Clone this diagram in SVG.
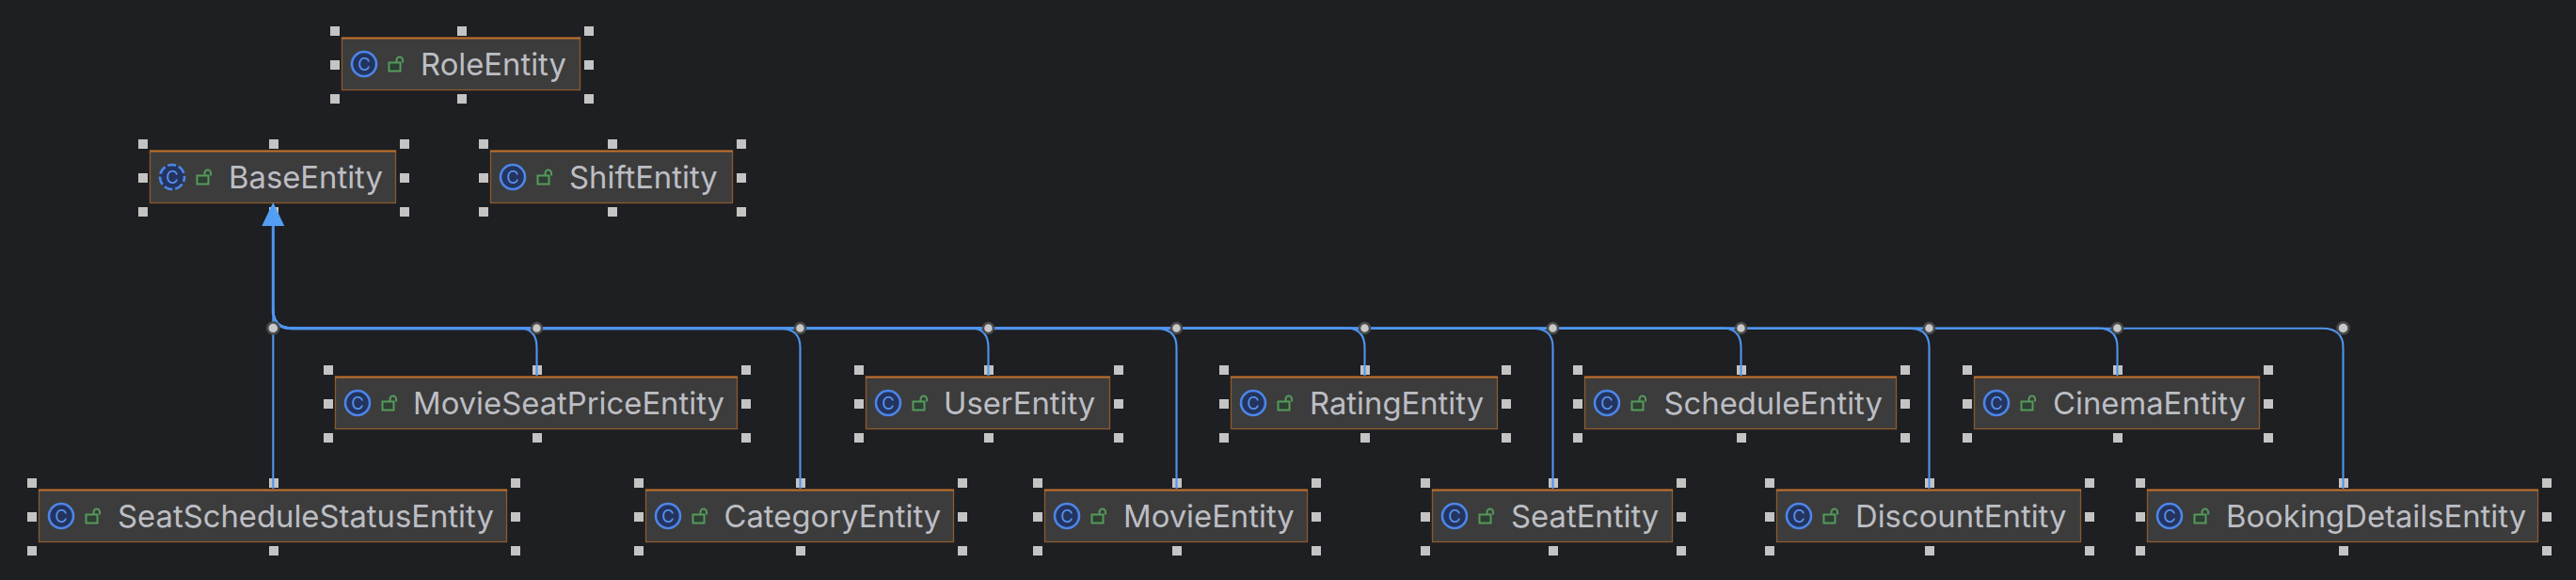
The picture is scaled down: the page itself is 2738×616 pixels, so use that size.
<svg xmlns="http://www.w3.org/2000/svg" width="2738" height="616" viewBox="0 0 2738 616">
<style>
.box{fill:#3c3c3c;stroke:#8c5a2e;stroke-width:1.3}
.top{stroke:#c0702c;stroke-width:1.8}
.name{font-family:"Inter","Liberation Sans",sans-serif;font-size:32.8px;fill:#bcbec4}
.h{fill:#c4c4c4}
.ic{fill:#23345e;stroke:#4d85e8;stroke-width:2.6}
.ca{fill:none;stroke:#4d85e8;stroke-width:2.6;stroke-dasharray:9 3;stroke-dashoffset:4}
.c{font-family:"Inter","Liberation Sans",sans-serif;font-size:18.5px;fill:#5c93ee;text-anchor:middle}
.lb{fill:#2e3f33;stroke:#559a5c;stroke-width:2}
.ls{fill:none;stroke:#559a5c;stroke-width:2}
.e{fill:none;stroke:#4f95ee;stroke-width:2.1}
.k{fill:#c8c8c8;stroke:#4a4a4a;stroke-width:2.5}
</style>
<defs>
<marker id="tri" markerUnits="userSpaceOnUse" markerWidth="26" markerHeight="26" viewBox="0 0 26 26" refX="0" refY="13" orient="auto-start-reverse">
<polygon points="0,1 25,13 0,25" fill="#539ff6"/>
</marker>
<g id="lock">
<rect class="lb" x="0" y="6" width="12" height="9"/>
<path class="ls" d="M8 6V3.4a3.2 3.2 0 0 1 6.6 0V6"/>
</g>
<g id="handles">
<rect class="h" x="-5" y="-5" width="10" height="10"/>
</g>
</defs>
<rect width="2738" height="616" fill="#1e1f22"/>

<g id="RoleEntity">
<rect class="box" x="363.5" y="40.5" width="253" height="55"/><path class="top" d="M363 40.5H617"/>
<circle class="ic" cx="387" cy="68" r="13"/><text class="c" x="387" y="74.7">C</text>
<use href="#lock" x="413.5" y="60.5"/>
<text class="name" x="447" y="80">RoleEntity</text>
<use href="#handles" x="356" y="33"/><use href="#handles" x="491" y="33"/><use href="#handles" x="626" y="33"/><use href="#handles" x="356" y="69"/><use href="#handles" x="626" y="69"/><use href="#handles" x="356" y="105"/><use href="#handles" x="491" y="105"/><use href="#handles" x="626" y="105"/>
</g>
<g id="BaseEntity">
<rect class="box" x="159.5" y="160.5" width="261" height="55"/><path class="top" d="M159 160.5H421"/>
<circle cx="183" cy="188" r="13" fill="#23345e"/><circle class="ca" cx="183" cy="188" r="13"/><text class="c" x="183" y="194.7">C</text>
<use href="#lock" x="209.5" y="180.5"/>
<text class="name" x="243" y="200">BaseEntity</text>
<use href="#handles" x="152" y="153"/><use href="#handles" x="291" y="153"/><use href="#handles" x="430" y="153"/><use href="#handles" x="152" y="189"/><use href="#handles" x="430" y="189"/><use href="#handles" x="152" y="225"/><use href="#handles" x="291" y="225"/><use href="#handles" x="430" y="225"/>
</g>
<g id="ShiftEntity">
<rect class="box" x="521.5" y="160.5" width="257" height="55"/><path class="top" d="M521 160.5H779"/>
<circle class="ic" cx="545" cy="188" r="13"/><text class="c" x="545" y="194.7">C</text>
<use href="#lock" x="571.5" y="180.5"/>
<text class="name" x="605" y="200">ShiftEntity</text>
<use href="#handles" x="514" y="153"/><use href="#handles" x="651" y="153"/><use href="#handles" x="788" y="153"/><use href="#handles" x="514" y="189"/><use href="#handles" x="788" y="189"/><use href="#handles" x="514" y="225"/><use href="#handles" x="651" y="225"/><use href="#handles" x="788" y="225"/>
</g>
<g id="MovieSeatPriceEntity">
<rect class="box" x="356.5" y="400.5" width="427" height="55"/><path class="top" d="M356 400.5H784"/>
<circle class="ic" cx="380" cy="428" r="13"/><text class="c" x="380" y="434.7">C</text>
<use href="#lock" x="406.5" y="420.5"/>
<text class="name" x="439" y="440">MovieSeatPriceEntity</text>
<use href="#handles" x="349" y="393"/><use href="#handles" x="571" y="393"/><use href="#handles" x="793" y="393"/><use href="#handles" x="349" y="429"/><use href="#handles" x="793" y="429"/><use href="#handles" x="349" y="465"/><use href="#handles" x="571" y="465"/><use href="#handles" x="793" y="465"/>
</g>
<g id="UserEntity">
<rect class="box" x="920.5" y="400.5" width="259" height="55"/><path class="top" d="M920 400.5H1180"/>
<circle class="ic" cx="944" cy="428" r="13"/><text class="c" x="944" y="434.7">C</text>
<use href="#lock" x="970.5" y="420.5"/>
<text class="name" x="1003" y="440">UserEntity</text>
<use href="#handles" x="913" y="393"/><use href="#handles" x="1051" y="393"/><use href="#handles" x="1189" y="393"/><use href="#handles" x="913" y="429"/><use href="#handles" x="1189" y="429"/><use href="#handles" x="913" y="465"/><use href="#handles" x="1051" y="465"/><use href="#handles" x="1189" y="465"/>
</g>
<g id="RatingEntity">
<rect class="box" x="1308.5" y="400.5" width="283" height="55"/><path class="top" d="M1308 400.5H1592"/>
<circle class="ic" cx="1332" cy="428" r="13"/><text class="c" x="1332" y="434.7">C</text>
<use href="#lock" x="1358.5" y="420.5"/>
<text class="name" x="1392" y="440">RatingEntity</text>
<use href="#handles" x="1301" y="393"/><use href="#handles" x="1451" y="393"/><use href="#handles" x="1601" y="393"/><use href="#handles" x="1301" y="429"/><use href="#handles" x="1601" y="429"/><use href="#handles" x="1301" y="465"/><use href="#handles" x="1451" y="465"/><use href="#handles" x="1601" y="465"/>
</g>
<g id="ScheduleEntity">
<rect class="box" x="1684.5" y="400.5" width="331" height="55"/><path class="top" d="M1684 400.5H2016"/>
<circle class="ic" cx="1708" cy="428" r="13"/><text class="c" x="1708" y="434.7">C</text>
<use href="#lock" x="1734.5" y="420.5"/>
<text class="name" x="1768.5" y="440">ScheduleEntity</text>
<use href="#handles" x="1677" y="393"/><use href="#handles" x="1851" y="393"/><use href="#handles" x="2025" y="393"/><use href="#handles" x="1677" y="429"/><use href="#handles" x="2025" y="429"/><use href="#handles" x="1677" y="465"/><use href="#handles" x="1851" y="465"/><use href="#handles" x="2025" y="465"/>
</g>
<g id="CinemaEntity">
<rect class="box" x="2098.5" y="400.5" width="303" height="55"/><path class="top" d="M2098 400.5H2402"/>
<circle class="ic" cx="2122" cy="428" r="13"/><text class="c" x="2122" y="434.7">C</text>
<use href="#lock" x="2148.5" y="420.5"/>
<text class="name" x="2182" y="440">CinemaEntity</text>
<use href="#handles" x="2091" y="393"/><use href="#handles" x="2251" y="393"/><use href="#handles" x="2411" y="393"/><use href="#handles" x="2091" y="429"/><use href="#handles" x="2411" y="429"/><use href="#handles" x="2091" y="465"/><use href="#handles" x="2251" y="465"/><use href="#handles" x="2411" y="465"/>
</g>
<g id="SeatScheduleStatusEntity">
<rect class="box" x="41.5" y="520.5" width="497" height="55"/><path class="top" d="M41 520.5H539"/>
<circle class="ic" cx="65" cy="548" r="13"/><text class="c" x="65" y="554.7">C</text>
<use href="#lock" x="91.5" y="540.5"/>
<text class="name" x="125" y="560">SeatScheduleStatusEntity</text>
<use href="#handles" x="34" y="513"/><use href="#handles" x="291" y="513"/><use href="#handles" x="548" y="513"/><use href="#handles" x="34" y="549"/><use href="#handles" x="548" y="549"/><use href="#handles" x="34" y="585"/><use href="#handles" x="291" y="585"/><use href="#handles" x="548" y="585"/>
</g>
<g id="CategoryEntity">
<rect class="box" x="686.5" y="520.5" width="327" height="55"/><path class="top" d="M686 520.5H1014"/>
<circle class="ic" cx="710" cy="548" r="13"/><text class="c" x="710" y="554.7">C</text>
<use href="#lock" x="736.5" y="540.5"/>
<text class="name" x="769.5" y="560">CategoryEntity</text>
<use href="#handles" x="679" y="513"/><use href="#handles" x="851" y="513"/><use href="#handles" x="1023" y="513"/><use href="#handles" x="679" y="549"/><use href="#handles" x="1023" y="549"/><use href="#handles" x="679" y="585"/><use href="#handles" x="851" y="585"/><use href="#handles" x="1023" y="585"/>
</g>
<g id="MovieEntity">
<rect class="box" x="1110.5" y="520.5" width="279" height="55"/><path class="top" d="M1110 520.5H1390"/>
<circle class="ic" cx="1134" cy="548" r="13"/><text class="c" x="1134" y="554.7">C</text>
<use href="#lock" x="1160.5" y="540.5"/>
<text class="name" x="1194" y="560">MovieEntity</text>
<use href="#handles" x="1103" y="513"/><use href="#handles" x="1251" y="513"/><use href="#handles" x="1399" y="513"/><use href="#handles" x="1103" y="549"/><use href="#handles" x="1399" y="549"/><use href="#handles" x="1103" y="585"/><use href="#handles" x="1251" y="585"/><use href="#handles" x="1399" y="585"/>
</g>
<g id="SeatEntity">
<rect class="box" x="1522.5" y="520.5" width="255" height="55"/><path class="top" d="M1522 520.5H1778"/>
<circle class="ic" cx="1546" cy="548" r="13"/><text class="c" x="1546" y="554.7">C</text>
<use href="#lock" x="1572.5" y="540.5"/>
<text class="name" x="1606" y="560">SeatEntity</text>
<use href="#handles" x="1515" y="513"/><use href="#handles" x="1651" y="513"/><use href="#handles" x="1787" y="513"/><use href="#handles" x="1515" y="549"/><use href="#handles" x="1787" y="549"/><use href="#handles" x="1515" y="585"/><use href="#handles" x="1651" y="585"/><use href="#handles" x="1787" y="585"/>
</g>
<g id="DiscountEntity">
<rect class="box" x="1888.5" y="520.5" width="323" height="55"/><path class="top" d="M1888 520.5H2212"/>
<circle class="ic" cx="1912" cy="548" r="13"/><text class="c" x="1912" y="554.7">C</text>
<use href="#lock" x="1938.5" y="540.5"/>
<text class="name" x="1972" y="560">DiscountEntity</text>
<use href="#handles" x="1881" y="513"/><use href="#handles" x="2051" y="513"/><use href="#handles" x="2221" y="513"/><use href="#handles" x="1881" y="549"/><use href="#handles" x="2221" y="549"/><use href="#handles" x="1881" y="585"/><use href="#handles" x="2051" y="585"/><use href="#handles" x="2221" y="585"/>
</g>
<g id="BookingDetailsEntity">
<rect class="box" x="2282.5" y="520.5" width="415" height="55"/><path class="top" d="M2282 520.5H2698"/>
<circle class="ic" cx="2306" cy="548" r="13"/><text class="c" x="2306" y="554.7">C</text>
<use href="#lock" x="2332.5" y="540.5"/>
<text class="name" x="2366" y="560">BookingDetailsEntity</text>
<use href="#handles" x="2275" y="513"/><use href="#handles" x="2491" y="513"/><use href="#handles" x="2707" y="513"/><use href="#handles" x="2275" y="549"/><use href="#handles" x="2707" y="549"/><use href="#handles" x="2275" y="585"/><use href="#handles" x="2491" y="585"/><use href="#handles" x="2707" y="585"/>
</g>

<g id="connectors">
<path class="e" marker-start="url(#tri)" style="stroke-width:3" d="M290.3 240V333"/>
<path class="e" d="M290.3 240V519"/>
<path class="e" d="M290.3 329Q290.3 348.2 310 348.2H550.5Q570.5 348.2 570.5 369V399"/>
<path class="e" d="M290.3 329Q290.3 349.2 310 349.2H830.5Q850.5 349.2 850.5 369V519"/>
<path class="e" d="M290.3 329Q290.3 348.3 310 348.3H1030.5Q1050.5 348.3 1050.5 369V399"/>
<path class="e" d="M290.3 329Q290.3 349.1 310 349.1H1230.5Q1250.5 349.1 1250.5 369V519"/>
<path class="e" d="M290.3 329Q290.3 348.4 310 348.4H1430.5Q1450.5 348.4 1450.5 369V399"/>
<path class="e" d="M290.3 329Q290.3 349 310 349H1630.5Q1650.5 349 1650.5 369V519"/>
<path class="e" d="M290.3 329Q290.3 348.5 310 348.5H1830.5Q1850.5 348.5 1850.5 369V399"/>
<path class="e" d="M290.3 329Q290.3 348.9 310 348.9H2030.5Q2050.5 348.9 2050.5 369V519"/>
<path class="e" d="M290.3 329Q290.3 348.6 310 348.6H2230.5Q2250.5 348.6 2250.5 369V399"/>
<path class="e" d="M290.3 329Q290.3 348.7 310 348.7H2468Q2490.5 348.7 2490.5 369V519"/>
<g id="knots">
<circle class="k" cx="290.3" cy="348.5" r="6"/>
<circle class="k" cx="570.5" cy="348.5" r="5.5"/>
<circle class="k" cx="850.5" cy="348.5" r="5.5"/>
<circle class="k" cx="1050.5" cy="348.5" r="5.5"/>
<circle class="k" cx="1250.5" cy="348.5" r="5.5"/>
<circle class="k" cx="1450.5" cy="348.5" r="5.5"/>
<circle class="k" cx="1650.5" cy="348.5" r="5.5"/>
<circle class="k" cx="1850.5" cy="348.5" r="5.5"/>
<circle class="k" cx="2050.5" cy="348.5" r="5.5"/>
<circle class="k" cx="2250.5" cy="348.5" r="5.5"/>
<circle class="k" cx="2490.5" cy="348.5" r="6"/>
</g>
</g>
</svg>
